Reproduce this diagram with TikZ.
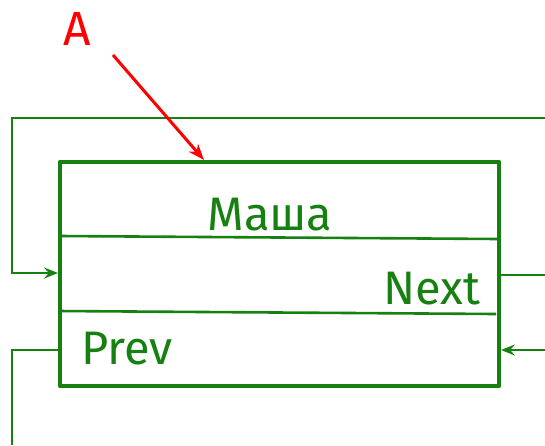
\documentclass[tikz,border=0pt]{standalone}
\usepackage{fontspec}
\setmainfont{Fira Sans}
\usetikzlibrary{arrows.meta}
\definecolor{lgreen}{RGB}{22,128,16}
\definecolor{lred}{RGB}{255,0,0}
\tikzset{
  x=1pt, y=-1pt,
  boxline/.style={draw=lgreen, line width=4.5pt, line join=round},
  divline/.style={draw=lgreen, line width=2.6pt},
  link/.style={draw=lgreen, line width=2.8pt},
  linktip/.style={-{Stealth[length=14pt,width=11pt,inset=5pt]}},
  lbl/.style={text=lgreen, font=\fontsize{47}{56}\selectfont, inner sep=0pt, anchor=base},
}
\begin{document}
\begin{tikzpicture}
\useasboundingbox (0,0) rectangle (545,445);
% node box
\coordinate (tl) at (60,162);
\coordinate (br) at (499,386);
\path[boxline] (tl) rectangle (br);
% field separators
\coordinate (d1a) at (60,236); \coordinate (d1b) at (498,239);
\coordinate (d2a) at (58,311); \coordinate (d2b) at (496,314);
\draw[divline] (d1a) -- (d1b);
\draw[divline] (d2a) -- (d2b);
% field labels
\node[lbl] (name) at (270,230) {Маша};
\node[lbl] (next) at (432,304) {Next};
\node[lbl] (prev) at (127,364) {Prev};
% incoming link wrapping round the top
\coordinate (inR) at (545,118);
\coordinate (inC1) at (12,118);
\coordinate (inC2) at (12,273);
\coordinate (inL) at (58,273);
\draw[link, linktip] (inR) -- (inC1) -- (inC2) -- (inL);
% Next pointer going out
\coordinate (nextS) at (499,275);
\coordinate (nextE) at (545,275);
\draw[link] (nextS) -- (nextE);
% incoming Prev link from the right
\coordinate (pinS) at (545,350);
\coordinate (pinE) at (501,350);
\draw[link, linktip] (pinS) -- (pinE);
% Prev pointer going out
\coordinate (prevS) at (60,350);
\coordinate (prevC) at (12,350);
\coordinate (prevE) at (12,445);
\draw[link] (prevS) -- (prevC) -- (prevE);
% head pointer A
\node[text=lred, font=\fontsize{48}{58}\selectfont, inner sep=0pt, anchor=base] (A) at (77,45) {A};
\coordinate (Astart) at (113,55);
\coordinate (Aend) at (204,160);
\draw[draw=lred, line width=3pt, -{Stealth[length=16pt,width=12pt,inset=5pt]}] (Astart) -- (Aend);
\end{tikzpicture}
\end{document}
